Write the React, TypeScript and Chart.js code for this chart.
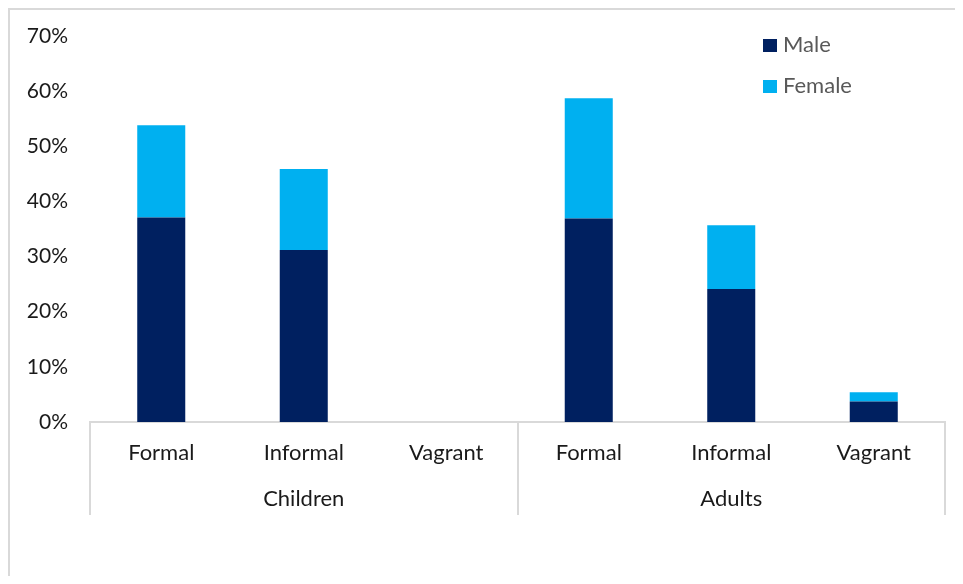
import React, { useEffect, useRef } from "react";
import { Chart, registerables } from "chart.js";

Chart.register(...registerables);

const categories: string[][] = [
  ["Formal", ""],
  ["Informal", "Children"],
  ["Vagrant", ""],
  ["Formal", ""],
  ["Informal", "Adults"],
  ["Vagrant", ""],
];
const maleValues = [37.1, 31.2, 0, 36.9, 24.1, 3.7];
const femaleValues = [16.7, 14.7, 0, 21.8, 11.6, 1.7];
const seriesNames = ["Male", "Female"];
const seriesColors = ["#002060", "#00B0F0"];
const yTicksMax = 70;
const yTicksStep = 10;

const FONT = "Lato, 'Open Sans', sans-serif";

const legendPlugin = {
  id: "insideLegend",
  afterDraw(chart: any) {
    const ctx = chart.ctx;
    ctx.save();
    ctx.font = `22px ${FONT}`;
    ctx.textBaseline = "middle";
    ctx.textAlign = "left";
    const rows = [35, 76];
    chart.data.datasets.forEach((ds: any, i: number) => {
      const cy = rows[i];
      ctx.fillStyle = ds.backgroundColor;
      ctx.fillRect(753, cy - 6, 14, 13);
      ctx.fillStyle = "#595959";
      ctx.fillText(ds.label, 773, cy);
    });
    ctx.restore();
  },
};

export default function App() {
  const ref = useRef<HTMLCanvasElement | null>(null);
  useEffect(() => {
    if (!ref.current) return;
    const chart = new Chart(ref.current, {
      type: "bar",
      data: {
        labels: categories as any,
        datasets: [
          {
            label: seriesNames[0],
            data: maleValues,
            backgroundColor: seriesColors[0],
            barPercentage: 0.337,
            categoryPercentage: 1,
          },
          {
            label: seriesNames[1],
            data: femaleValues,
            backgroundColor: seriesColors[1],
            barPercentage: 0.337,
            categoryPercentage: 1,
          },
        ],
      },
      options: {
        animation: false,
        responsive: true,
        maintainAspectRatio: false,
        layout: { padding: { top: 26, right: 18, left: 0, bottom: 0 } },
        plugins: {
          legend: { display: false },
          tooltip: { enabled: false },
        },
        scales: {
          x: {
            stacked: true,
            offset: true,
            grid: {
              offset: true,
              drawOnChartArea: false,
              drawTicks: true,
              tickLength: 93,
              lineWidth: 2,
              color: (c: any) =>
                c.type !== "tick" || c.index % 3 === 0 ? "#d9d9d9" : "rgba(0,0,0,0)",
            },
            border: { display: true, color: "#d9d9d9", width: 2 },
            ticks: {
              padding: -85,
              maxRotation: 0,
              autoSkip: false,
              color: "#1a1a1a",
              font: { family: FONT, size: 22, lineHeight: 2.08 },
            },
            afterFit: (s: any) => {
              s.height = 154;
            },
          },
          y: {
            stacked: true,
            min: 0,
            max: yTicksMax,
            grid: { display: false, drawTicks: false },
            border: { display: false },
            ticks: {
              stepSize: yTicksStep,
              padding: 22,
              color: "#1a1a1a",
              font: { family: FONT, size: 21 },
              callback: (v: any) => `${v}%`,
            },
            afterFit: (s: any) => {
              s.width = 80;
              s.paddingTop = 0;
              s.paddingBottom = 0;
            },
          },
        },
      },
      plugins: [legendPlugin],
    });
    return () => chart.destroy();
  }, []);

  return (
    <div
      style={{
        width: 953,
        height: 566,
        borderTop: "2px solid #d9d9d9",
        borderLeft: "2px solid #d9d9d9",
        position: "relative",
      }}
    >
      <canvas ref={ref} />
    </div>
  );
}
